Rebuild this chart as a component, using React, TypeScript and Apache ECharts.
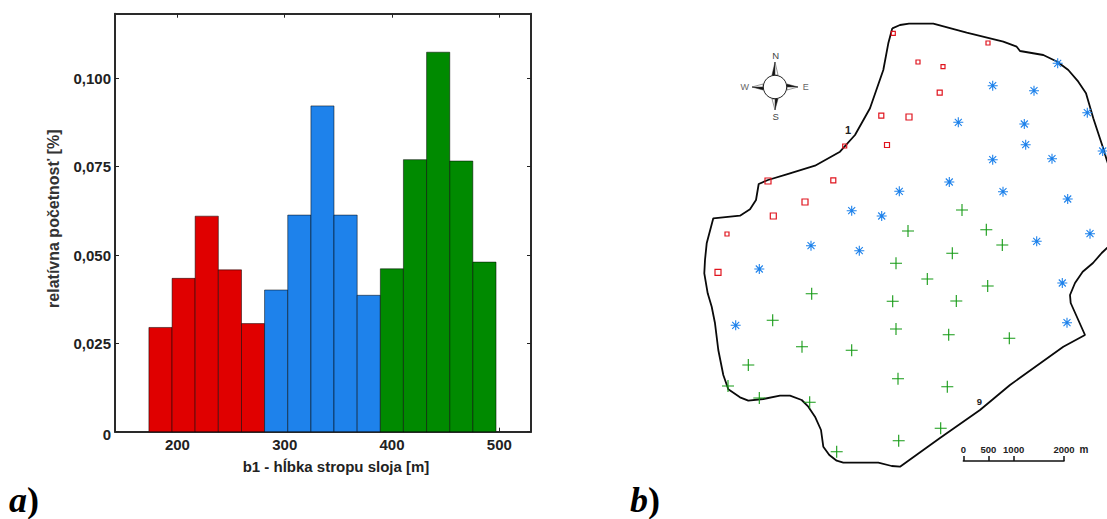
import React, { useEffect, useRef } from "react";
import * as echarts from "echarts";

// ---------- panel a: histogram ----------
const binEdges = [173.4, 195, 216.5, 238.1, 259.7, 281.2, 302.8, 324.4, 345.9, 367.5, 389.1, 410.6, 432.2, 453.8, 475.3, 496.9];
const redValues = [0.0295, 0.0434, 0.061, 0.0458, 0.0306];
const blueValues = [0.0401, 0.0613, 0.0922, 0.0613, 0.0386];
const greenValues = [0.0461, 0.077, 0.1074, 0.0766, 0.048];
const xTicks = [200, 300, 400, 500];
const yTicks = [0, 0.025, 0.05, 0.075, 0.1];
const xTitle = "b1 - hĺbka stropu sloja [m]";
const yTitle = "relatívna početnosť [%]";

// ---------- panel b: map, in picture coordinates ----------
const boundary = [
  [892.3, 28.3], [900, 25], [909, 23.7], [933.3, 23.7], [966.7, 32.7], [1003.3, 41.7], [1016.7, 46.7], [1020, 51],
  [1043.3, 55], [1057.3, 61.7], [1068.3, 70], [1078.3, 81.7], [1086, 93.3], [1093.3, 118.3], [1102.7, 146.7], [1107, 160.7],
  [1112, 175], [1114, 210], [1110, 245], [1101.7, 253], [1093, 263], [1082.7, 271.7], [1075, 283], [1070, 295], [1070.7, 303],
  [1085, 335], [1063.3, 346.7], [1010, 385], [980, 410], [940, 438], [900, 466.7], [891.7, 466], [878.3, 462.7], [843.3, 462.7],
  [836.7, 460.7], [829.3, 455], [823.3, 446.7], [821, 430], [815, 416.7], [808.3, 406.7], [801.7, 400], [790, 395.7], [780, 395.7],
  [763.3, 399], [748.3, 400.7], [740, 397.3], [728.3, 389.3], [723.3, 375], [718.3, 350], [715, 323.3], [711.7, 306.7], [707.7, 293.3],
  [704.3, 273.3], [705, 260], [706.7, 243.3], [713.3, 218.3], [740, 215.7], [750, 209.3], [756, 200], [758.7, 184], [768, 180],
  [786.7, 174.3], [815, 165.7], [840, 151.7], [855, 135], [870, 108.3], [883.3, 70], [888.3, 43.3], [892.3, 28.3],
];
const redSmall = [[893.3, 33.3], [988, 43], [918, 62], [943, 66.7], [844.7, 146], [727, 234]];
const redMedium = [[939.7, 92.7], [881.3, 115.7], [887, 145], [833.3, 180.3]];
const redLarge = [[909, 117], [768, 181], [805, 202], [773.3, 216], [718, 272.3]];
const blueWells = [
  [1057.7, 63.3], [992.7, 85.7], [1034, 90.7], [1087.3, 112.7], [958.3, 122.3], [1024.3, 124], [1025.7, 144.7], [1102.7, 151],
  [992.7, 159.7], [1052, 158.7], [949.3, 182], [899.3, 191.3], [1003, 191.7], [1067.7, 199], [851.7, 210.7], [881.7, 216],
  [1090, 233.7], [1036.7, 241.3], [811, 245.7], [859.3, 250.7], [759.3, 269], [1062.3, 283], [735.7, 325.3], [1067, 322.7],
];
const greenWells = [
  [962, 210], [908, 231], [986.3, 229.7], [1002.3, 245], [952.3, 253.3], [896, 263.3], [927.3, 279], [987.7, 286], [811.7, 293.7],
  [892.7, 301.3], [956.3, 301], [772.7, 320.3], [896, 329], [948.7, 334.7], [1009.3, 338.3], [802, 346.7], [851.7, 350.3],
  [748.3, 365], [898, 378.7], [947.3, 386.7], [728, 386], [759.3, 398], [809.7, 402.3], [940.7, 428.3], [898.7, 440.7], [836.7, 451.7],
];
const scaleTicks = [0, 500, 1000, 2000];

const FONT = "'Liberation Sans', Arial, sans-serif";
const SERIF = "'Liberation Serif', 'Times New Roman', serif";
const INK = "#222";

const starSymbol = "path://M0 5L10 5M5 0L5 10M1.5 1.5L8.5 8.5M1.5 8.5L8.5 1.5";
const plusSymbol = "path://M0 5L10 5M5 0L5 10";

function bars(values: number[], offset: number, color: string) {
  return {
    type: "custom",
    xAxisIndex: 0,
    yAxisIndex: 0,
    encode: { x: [0, 1], y: 2 },
    data: values.map((v, i) => [binEdges[offset + i], binEdges[offset + i + 1], v]),
    renderItem: (_: any, api: any) => {
      const a = api.coord([api.value(0), api.value(2)]);
      const b = api.coord([api.value(1), 0]);
      return {
        type: "rect",
        shape: { x: a[0], y: a[1], width: b[0] - a[0], height: b[1] - a[1] },
        style: { fill: color, stroke: "rgba(0,0,0,0.5)", lineWidth: 1 },
      };
    },
  };
}

function wells(data: number[][], color: string, symbol: string, size: number, border = 1) {
  return {
    type: "scatter",
    xAxisIndex: 2,
    yAxisIndex: 2,
    data,
    symbol,
    symbolSize: size,
    clip: false,
    itemStyle: { color: "transparent", borderColor: color, borderWidth: border, opacity: 1 },
    z: 3,
  };
}

function spike(tip: number[], l: number[], base: number[], r: number[]) {
  return [
    { type: "polygon", shape: { points: [tip, l, base] }, style: { fill: "#111", stroke: "#333", lineWidth: 0.5 } },
    { type: "polygon", shape: { points: [tip, r, base] }, style: { fill: "#fff", stroke: "#333", lineWidth: 0.5 } },
  ];
}

function label(text: string, x: number, y: number, size: number, weight: string, fill: string) {
  return {
    type: "text",
    x,
    y,
    style: { text, fontSize: size, fontWeight: weight, fontFamily: FONT, fill, align: "center", verticalAlign: "middle" },
  };
}

function panelLetter(letter: string, x: number, y: number) {
  return {
    type: "text", x, y, silent: true,
    style: {
      text: `{i|${letter}}{p|)}`,
      verticalAlign: "bottom",
      rich: {
        i: { fontFamily: SERIF, fontStyle: "italic", fontWeight: "bold", fontSize: 36, lineHeight: 30, fill: "#000" },
        p: { fontFamily: SERIF, fontWeight: "bold", fontSize: 36, lineHeight: 30, fill: "#000" },
      },
    },
  };
}

export default function App() {
  const ref = useRef<HTMLDivElement>(null);
  useEffect(() => {
    const chart = echarts.init(ref.current!, undefined, { renderer: "svg" });
    const edgeAxis = { onZero: false, lineStyle: { color: "#2a2a2a", width: 2 } };
    const tickStyle = { inside: true, length: 4, lineStyle: { color: "#222", width: 1 } };
    chart.setOption({
      animation: false,
      backgroundColor: "#fff",
      grid: [
        { left: 115, top: 13.7, width: 416, height: 418, show: false },
        { left: 700, top: 0, width: 407, height: 519, show: false },
        { left: 963.3, top: 461, width: 100.7, height: 1, show: false },
      ],
      xAxis: [
        {
          type: "value", gridIndex: 0, min: 141.8, max: 529.5, position: "bottom",
          name: xTitle, nameLocation: "middle", nameGap: 27,
          nameTextStyle: { fontFamily: FONT, fontWeight: "bold", fontSize: 15, color: INK, padding: [0, 0, 0, 26] },
          axisLine: edgeAxis,
          axisTick: { ...tickStyle, customValues: xTicks },
          axisLabel: { customValues: xTicks, fontFamily: FONT, fontWeight: "bold", fontSize: 15, color: INK, margin: 5 },
          splitLine: { show: false },
        },
        {
          type: "value", gridIndex: 0, min: 141.8, max: 529.5, position: "top",
          axisLine: edgeAxis,
          axisTick: { ...tickStyle, customValues: xTicks },
          axisLabel: { show: false },
          splitLine: { show: false },
        },
        { type: "value", gridIndex: 1, min: 700, max: 1107, show: false },
        {
          type: "value", gridIndex: 2, min: 0, max: 2000, position: "top",
          axisLine: { onZero: false, lineStyle: { color: "#111", width: 1.5 } },
          axisTick: { inside: false, length: 5, customValues: scaleTicks, lineStyle: { color: "#111", width: 1.5 } },
          axisLabel: {
            customValues: scaleTicks, formatter: (v: number) => String(v),
            fontFamily: FONT, fontWeight: "bold", fontSize: 9.5, color: INK, margin: 7,
          },
          splitLine: { show: false },
        },
      ],
      yAxis: [
        {
          type: "value", gridIndex: 0, min: 0, max: 0.1183, position: "left",
          name: yTitle, nameLocation: "middle", nameGap: 54,
          nameTextStyle: { fontFamily: FONT, fontWeight: "bold", fontSize: 16, color: "#333", padding: [0, 0, 0, 8] },
          axisLine: edgeAxis,
          axisTick: { ...tickStyle, customValues: yTicks },
          axisLabel: {
            customValues: yTicks,
            formatter: (v: number) => (v === 0 ? "{z|0}" : v.toFixed(3).replace(".", ",")),
            rich: { z: { fontFamily: FONT, fontWeight: "bold", fontSize: 15, color: INK, padding: [6, 0, 0, 0] } },
            fontFamily: FONT, fontWeight: "bold", fontSize: 15, color: INK, margin: 4,
          },
          splitLine: { show: false },
        },
        {
          type: "value", gridIndex: 0, min: 0, max: 0.1183, position: "right",
          axisLine: edgeAxis,
          axisTick: { ...tickStyle, customValues: yTicks },
          axisLabel: { show: false },
          splitLine: { show: false },
        },
        { type: "value", gridIndex: 1, min: 0, max: 519, inverse: true, show: false },
        { type: "value", gridIndex: 2, min: 0, max: 1, show: false },
      ],
      series: [
        bars(redValues, 0, "#e00000"),
        bars(blueValues, 5, "#1e82eb"),
        bars(greenValues, 10, "#008a00"),
        {
          type: "line", xAxisIndex: 2, yAxisIndex: 2, data: boundary, showSymbol: false, symbol: "none",
          lineStyle: { color: "#0a0a0a", width: 1.8 }, z: 2,
        },
        wells(redSmall, "#e0141e", "rect", 4, 1.2),
        wells(redMedium, "#e0141e", "rect", 5, 1.2),
        wells(redLarge, "#e0141e", "rect", 6, 1.2),
        wells(blueWells, "#1e82eb", starSymbol, 10, 1.1),
        wells(greenWells, "#149a14", plusSymbol, 12, 1.1),
      ],
      graphic: [
        panelLetter("a", 9, 515),
        panelLetter("b", 630, 515),
        label("1", 848, 130, 11, "bold", INK),
        label("9", 979.3, 401.7, 9.5, "bold", INK),
        label("m", 1084, 449.5, 10, "bold", INK),
        label("N", 775.7, 55.7, 9.5, "normal", "#444"),
        label("S", 775.7, 116.3, 9.5, "normal", "#444"),
        label("W", 744.7, 86.7, 9, "normal", "#666"),
        label("E", 805.7, 86.7, 9, "normal", "#666"),
        ...spike([775, 62], [772, 75], [775, 75], [778, 75]),
        ...spike([775, 110], [778, 99], [775, 99], [772, 99]),
        ...spike([752, 87], [763, 90], [763, 87], [763, 84]),
        ...spike([798, 87], [787, 84], [787, 87], [787, 90]),
        { type: "circle", shape: { cx: 775, cy: 87, r: 11.7 }, style: { fill: "#fff", stroke: "#222", lineWidth: 1 } },
      ],
    });
    return () => chart.dispose();
  }, []);
  return <div ref={ref} style={{ position: "fixed", left: 0, top: 0, width: 1107, height: 519, background: "#fff" }} />;
}
